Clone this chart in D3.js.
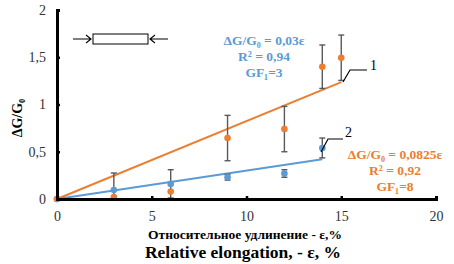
<!DOCTYPE html>
<html><head><meta charset="utf-8">
<script src="https://cdn.jsdelivr.net/npm/d3@7"></script>
<style>body{margin:0;background:#fff}svg{display:block}</style>
</head><body>
<svg id="c" width="454" height="264"></svg>
<script>
const xTicks = [0, 5, 10, 15, 20];
const yTicks = [0, 0.5, 1, 1.5, 2];
const yTickLabels = ["0", "0,5", "1", "1,5", "2"];
const orangeX = [0, 3, 6, 9, 12, 14, 15];
const orangeY = [0, 0.02, 0.08, 0.645, 0.74, 1.40, 1.495];
const orangeErr = [0, 0, 0, 0.24, 0.24, 0.23, 0.24];
const blueX = [0, 3, 6, 9, 12, 14];
const blueY = [0, 0.095, 0.16, 0.23, 0.27, 0.54];
const blueErr = [0, 0.18, 0.15, 0.03, 0.04, 0.105];
const orangeSlope = 0.0825, orangeMaxX = 15;
const blueSlope = 0.03, blueMaxX = 14;
const blueLabel = ["ΔG/G₀ = 0,03ε", "R² = 0,94", "GF₁=3"];
const orangeLabel = ["ΔG/G₀ = 0,0825ε", "R² = 0,92", "GF₁=8"];
const xTitleRu = "Относительное удлинение - ε,%";
const xTitleEn = "Relative elongation, - ε, %";

const ORANGE = "#ED7D31", BLUE = "#5B9BD5", GREY = "#595959";
const svg = d3.select("#c");
const x = d3.scaleLinear().domain([0, 20]).range([57, 436]);
const y = d3.scaleLinear().domain([0, 2]).range([199, 10]);
const serif = "'Liberation Serif', 'Times New Roman', serif";

svg.append("defs").append("clipPath").attr("id", "pa")
  .append("rect").attr("x", x(0)).attr("y", y(2)).attr("width", x(20) - x(0)).attr("height", y(0) - y(2));

function trend(slope, maxX, color) {
  svg.append("line").attr("x1", x(0)).attr("y1", y(0)).attr("x2", x(maxX)).attr("y2", y(slope * maxX))
    .attr("stroke", color).attr("stroke-width", 2);
}
trend(orangeSlope, orangeMaxX, ORANGE);
trend(blueSlope, blueMaxX, BLUE);

function errs(xs, ys, es) {
  const g = svg.append("g").attr("clip-path", "url(#pa)").attr("stroke", GREY).attr("stroke-width", 1.4);
  xs.forEach((xv, i) => {
    if (!es[i]) return;
    const top = y(ys[i] + es[i]), bot = y(ys[i] - es[i]);
    g.append("line").attr("x1", x(xv)).attr("x2", x(xv)).attr("y1", top).attr("y2", bot);
    g.append("line").attr("x1", x(xv) - 3).attr("x2", x(xv) + 3).attr("y1", top).attr("y2", top);
    g.append("line").attr("x1", x(xv) - 3).attr("x2", x(xv) + 3).attr("y1", bot).attr("y2", bot);
  });
}
errs(blueX, blueY, blueErr);
errs(orangeX, orangeY, orangeErr);

function pts(xs, ys, color) {
  svg.append("g").selectAll("circle").data(xs).join("circle")
    .attr("cx", d => x(d)).attr("cy", (d, i) => y(ys[i])).attr("r", 3.3).attr("fill", color);
}
pts(blueX, blueY, BLUE);
pts(orangeX, orangeY, ORANGE);

const xa = svg.append("g").attr("transform", `translate(0,${y(0)})`)
  .call(d3.axisBottom(x).tickValues(xTicks).tickSize(-3).tickPadding(9).tickFormat(d3.format("d")));
const ya = svg.append("g").attr("transform", `translate(${x(0)},0)`)
  .call(d3.axisLeft(y).tickValues(yTicks).tickSize(-3).tickPadding(11).tickFormat((d, i) => yTickLabels[i]));
[xa, ya].forEach(a => {
  a.select(".domain").attr("stroke", "#000").attr("stroke-width", 3);
  a.selectAll(".tick line").attr("stroke", "#000").attr("stroke-width", 2.5);
  a.selectAll(".tick text").attr("font-family", serif).attr("font-size", 14).attr("fill", "#333");
});
xa.selectAll(".tick text").attr("dy", "0.95em");

function lbl(lines, cx, y0, color) {
  const t = svg.append("g").attr("font-family", serif).attr("font-weight", "bold").attr("font-size", 13.5)
    .attr("fill", color).attr("text-anchor", "middle");
  lines.forEach((s, i) => t.append("text").attr("x", cx).attr("y", y0 + i * 16).text(s));
}
lbl(blueLabel, 264, 45, BLUE);
lbl(orangeLabel, 395, 159, ORANGE);

svg.append("polyline").attr("points", "343,82 350,70 367,70").attr("fill", "none").attr("stroke", "#000").attr("stroke-width", 1.2);
svg.append("text").attr("x", 370).attr("y", 70).attr("font-family", serif).attr("font-size", 14).text("1");
svg.append("polyline").attr("points", "321,152 328,139 343,139").attr("fill", "none").attr("stroke", "#000").attr("stroke-width", 1.2);
svg.append("text").attr("x", 345).attr("y", 137).attr("font-family", serif).attr("font-size", 14).text("2");

svg.append("rect").attr("x", 93).attr("y", 34).attr("width", 55).attr("height", 10).attr("fill", "#fff").attr("stroke", "#000").attr("stroke-width", 1);
svg.append("path").attr("d", "M73,39 H91 M86,35 L91,39 L86,43").attr("fill", "none").attr("stroke", "#000").attr("stroke-width", 1.1);
svg.append("path").attr("d", "M168,39 H150 M155,35 L150,39 L155,43").attr("fill", "none").attr("stroke", "#000").attr("stroke-width", 1.1);

svg.append("text").attr("x", 245).attr("y", 239).attr("text-anchor", "middle").attr("font-family", serif)
  .attr("font-weight", "bold").attr("font-size", 13.5).text(xTitleRu);
svg.append("text").attr("x", 243).attr("y", 258).attr("text-anchor", "middle").attr("font-family", serif)
  .attr("font-weight", "bold").attr("font-size", 17.5).text(xTitleEn);
svg.append("text").attr("transform", "translate(22,118) rotate(-90)").attr("text-anchor", "middle")
  .attr("font-family", serif).attr("font-weight", "bold").attr("font-size", 14).text("ΔG/G₀");
</script>
</body></html>
